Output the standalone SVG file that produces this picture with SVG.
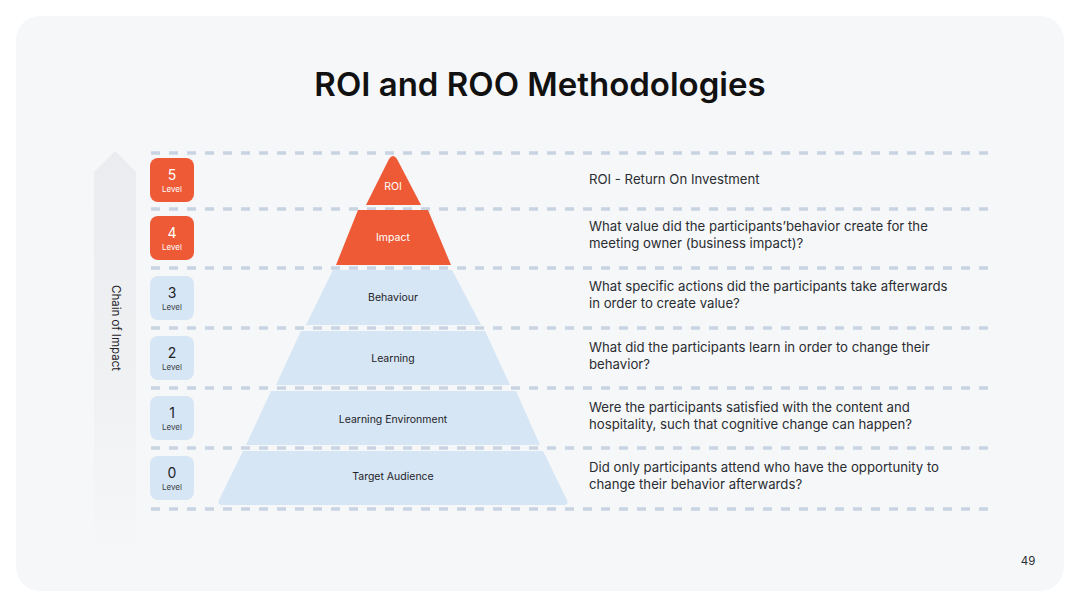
<svg xmlns="http://www.w3.org/2000/svg" width="1080" height="608" viewBox="0 0 1080 608">
<defs>
<linearGradient id="arr" x1="0" y1="0" x2="0" y2="1">
<stop offset="0" stop-color="#eaecef"/>
<stop offset="0.6" stop-color="#eff1f3"/>
<stop offset="1" stop-color="#f6f7f9"/>
</linearGradient>
<style>
.dash{stroke:#c9d4e3;stroke-width:3.5;stroke-dasharray:9 9;fill:none}
.or{fill:#ee5a36}
.bl{fill:#d6e6f5}
.num{font-family:Inter,"Liberation Sans",sans-serif;font-size:14px;text-anchor:middle}
.lvl{font-family:Inter,"Liberation Sans",sans-serif;font-size:8px;text-anchor:middle}
.pl{font-family:Inter,"Liberation Sans",sans-serif;font-size:10.5px;text-anchor:middle;fill:#1f2328}
.q{font-family:Inter,"Liberation Sans",sans-serif;font-size:13.2px;fill:#2a2d31}
</style>
</defs>
<rect width="1080" height="608" fill="#ffffff"/>
<rect x="16" y="16" width="1048" height="575" rx="24" fill="#f6f7f9"/>
<text x="540" y="96" font-family="Inter,'Liberation Sans',sans-serif" font-size="33" font-weight="600" text-anchor="middle" fill="#111">ROI and ROO Methodologies</text>
<g id="arrow">
<path d="M115 151 L136 172 L136 556 L94 556 L94 172 Z" fill="url(#arr)"/>
<text transform="translate(112 328) rotate(90)" font-family="Inter,'Liberation Sans',sans-serif" font-size="11.5" text-anchor="middle" fill="#1f2328">Chain of Impact</text>
</g>
<g id="connectors">
<line class="dash" x1="151" y1="153" x2="990" y2="153"/>
<line class="dash" x1="151" y1="209" x2="990" y2="209"/>
<line class="dash" x1="151" y1="268" x2="990" y2="268"/>
<line class="dash" x1="151" y1="328" x2="990" y2="328"/>
<line class="dash" x1="151" y1="388" x2="990" y2="388"/>
<line class="dash" x1="151" y1="448" x2="990" y2="448"/>
<line class="dash" x1="151" y1="509" x2="990" y2="509"/>
</g>
<g id="level5"><rect class="or" x="150" y="158" width="44" height="44" rx="8"/><text class="num" x="172" y="180" fill="#fff">5</text><text class="lvl" x="172" y="192" fill="#fff">Level</text></g>
<g id="level4"><rect class="or" x="150" y="216" width="44" height="44" rx="8"/><text class="num" x="172" y="238" fill="#fff">4</text><text class="lvl" x="172" y="250" fill="#fff">Level</text></g>
<g id="level3"><rect class="bl" x="150" y="276" width="44" height="44" rx="8"/><text class="num" x="172" y="298" fill="#1f2328">3</text><text class="lvl" x="172" y="310" fill="#3a3f45">Level</text></g>
<g id="level2"><rect class="bl" x="150" y="336" width="44" height="44" rx="8"/><text class="num" x="172" y="358" fill="#1f2328">2</text><text class="lvl" x="172" y="370" fill="#3a3f45">Level</text></g>
<g id="level1"><rect class="bl" x="150" y="396" width="44" height="44" rx="8"/><text class="num" x="172" y="418" fill="#1f2328">1</text><text class="lvl" x="172" y="430" fill="#3a3f45">Level</text></g>
<g id="level0"><rect class="bl" x="150" y="456" width="44" height="44" rx="8"/><text class="num" x="172" y="478" fill="#1f2328">0</text><text class="lvl" x="172" y="490" fill="#3a3f45">Level</text></g>
<g id="roi"><path class="or" d="M389 159 Q393 153 397 159 L421 205 L366 205 Z"/><text class="pl" x="393" y="190" style="fill:#fff">ROI</text></g>
<g id="impact"><path class="or" d="M358 210 L428 210 L451 265 L336 265 Z"/><text class="pl" x="393" y="241" style="fill:#fff">Impact</text></g>
<g id="behaviour"><path class="bl" d="M333 270 L452 270 L481 325 L306 325 Z"/><text class="pl" x="393" y="301">Behaviour</text></g>
<g id="learning"><path class="bl" d="M301 331 L485 331 L510 385 L276 385 Z"/><text class="pl" x="393" y="362">Learning</text></g>
<g id="learningenv"><path class="bl" d="M271 391 L516 391 L540 445 L246 445 Z"/><text class="pl" x="393" y="423">Learning Environment</text></g>
<g id="target"><path class="bl" d="M243 451 L543 451 L567 500 Q569 505 563 505 L223 505 Q217 505 219 500 Z"/><text class="pl" x="393" y="480">Target Audience</text></g>
<g id="questions">
<text class="q" x="589" y="184">ROI - Return On Investment</text>
<text class="q" x="589" y="231">What value did the participants’behavior create for the</text>
<text class="q" x="589" y="248">meeting owner (business impact)?</text>
<text class="q" x="589" y="291">What specific actions did the participants take afterwards</text>
<text class="q" x="589" y="308">in order to create value?</text>
<text class="q" x="589" y="352">What did the participants learn in order to change their</text>
<text class="q" x="589" y="369">behavior?</text>
<text class="q" x="589" y="412">Were the participants satisfied with the content and</text>
<text class="q" x="589" y="429">hospitality, such that cognitive change can happen?</text>
<text class="q" x="589" y="472">Did only participants attend who have the opportunity to</text>
<text class="q" x="589" y="489">change their behavior afterwards?</text>
</g>
<text x="1028" y="565" font-family="Inter,'Liberation Sans',sans-serif" font-size="11.5" text-anchor="middle" fill="#2a2d31">49</text>
</svg>
